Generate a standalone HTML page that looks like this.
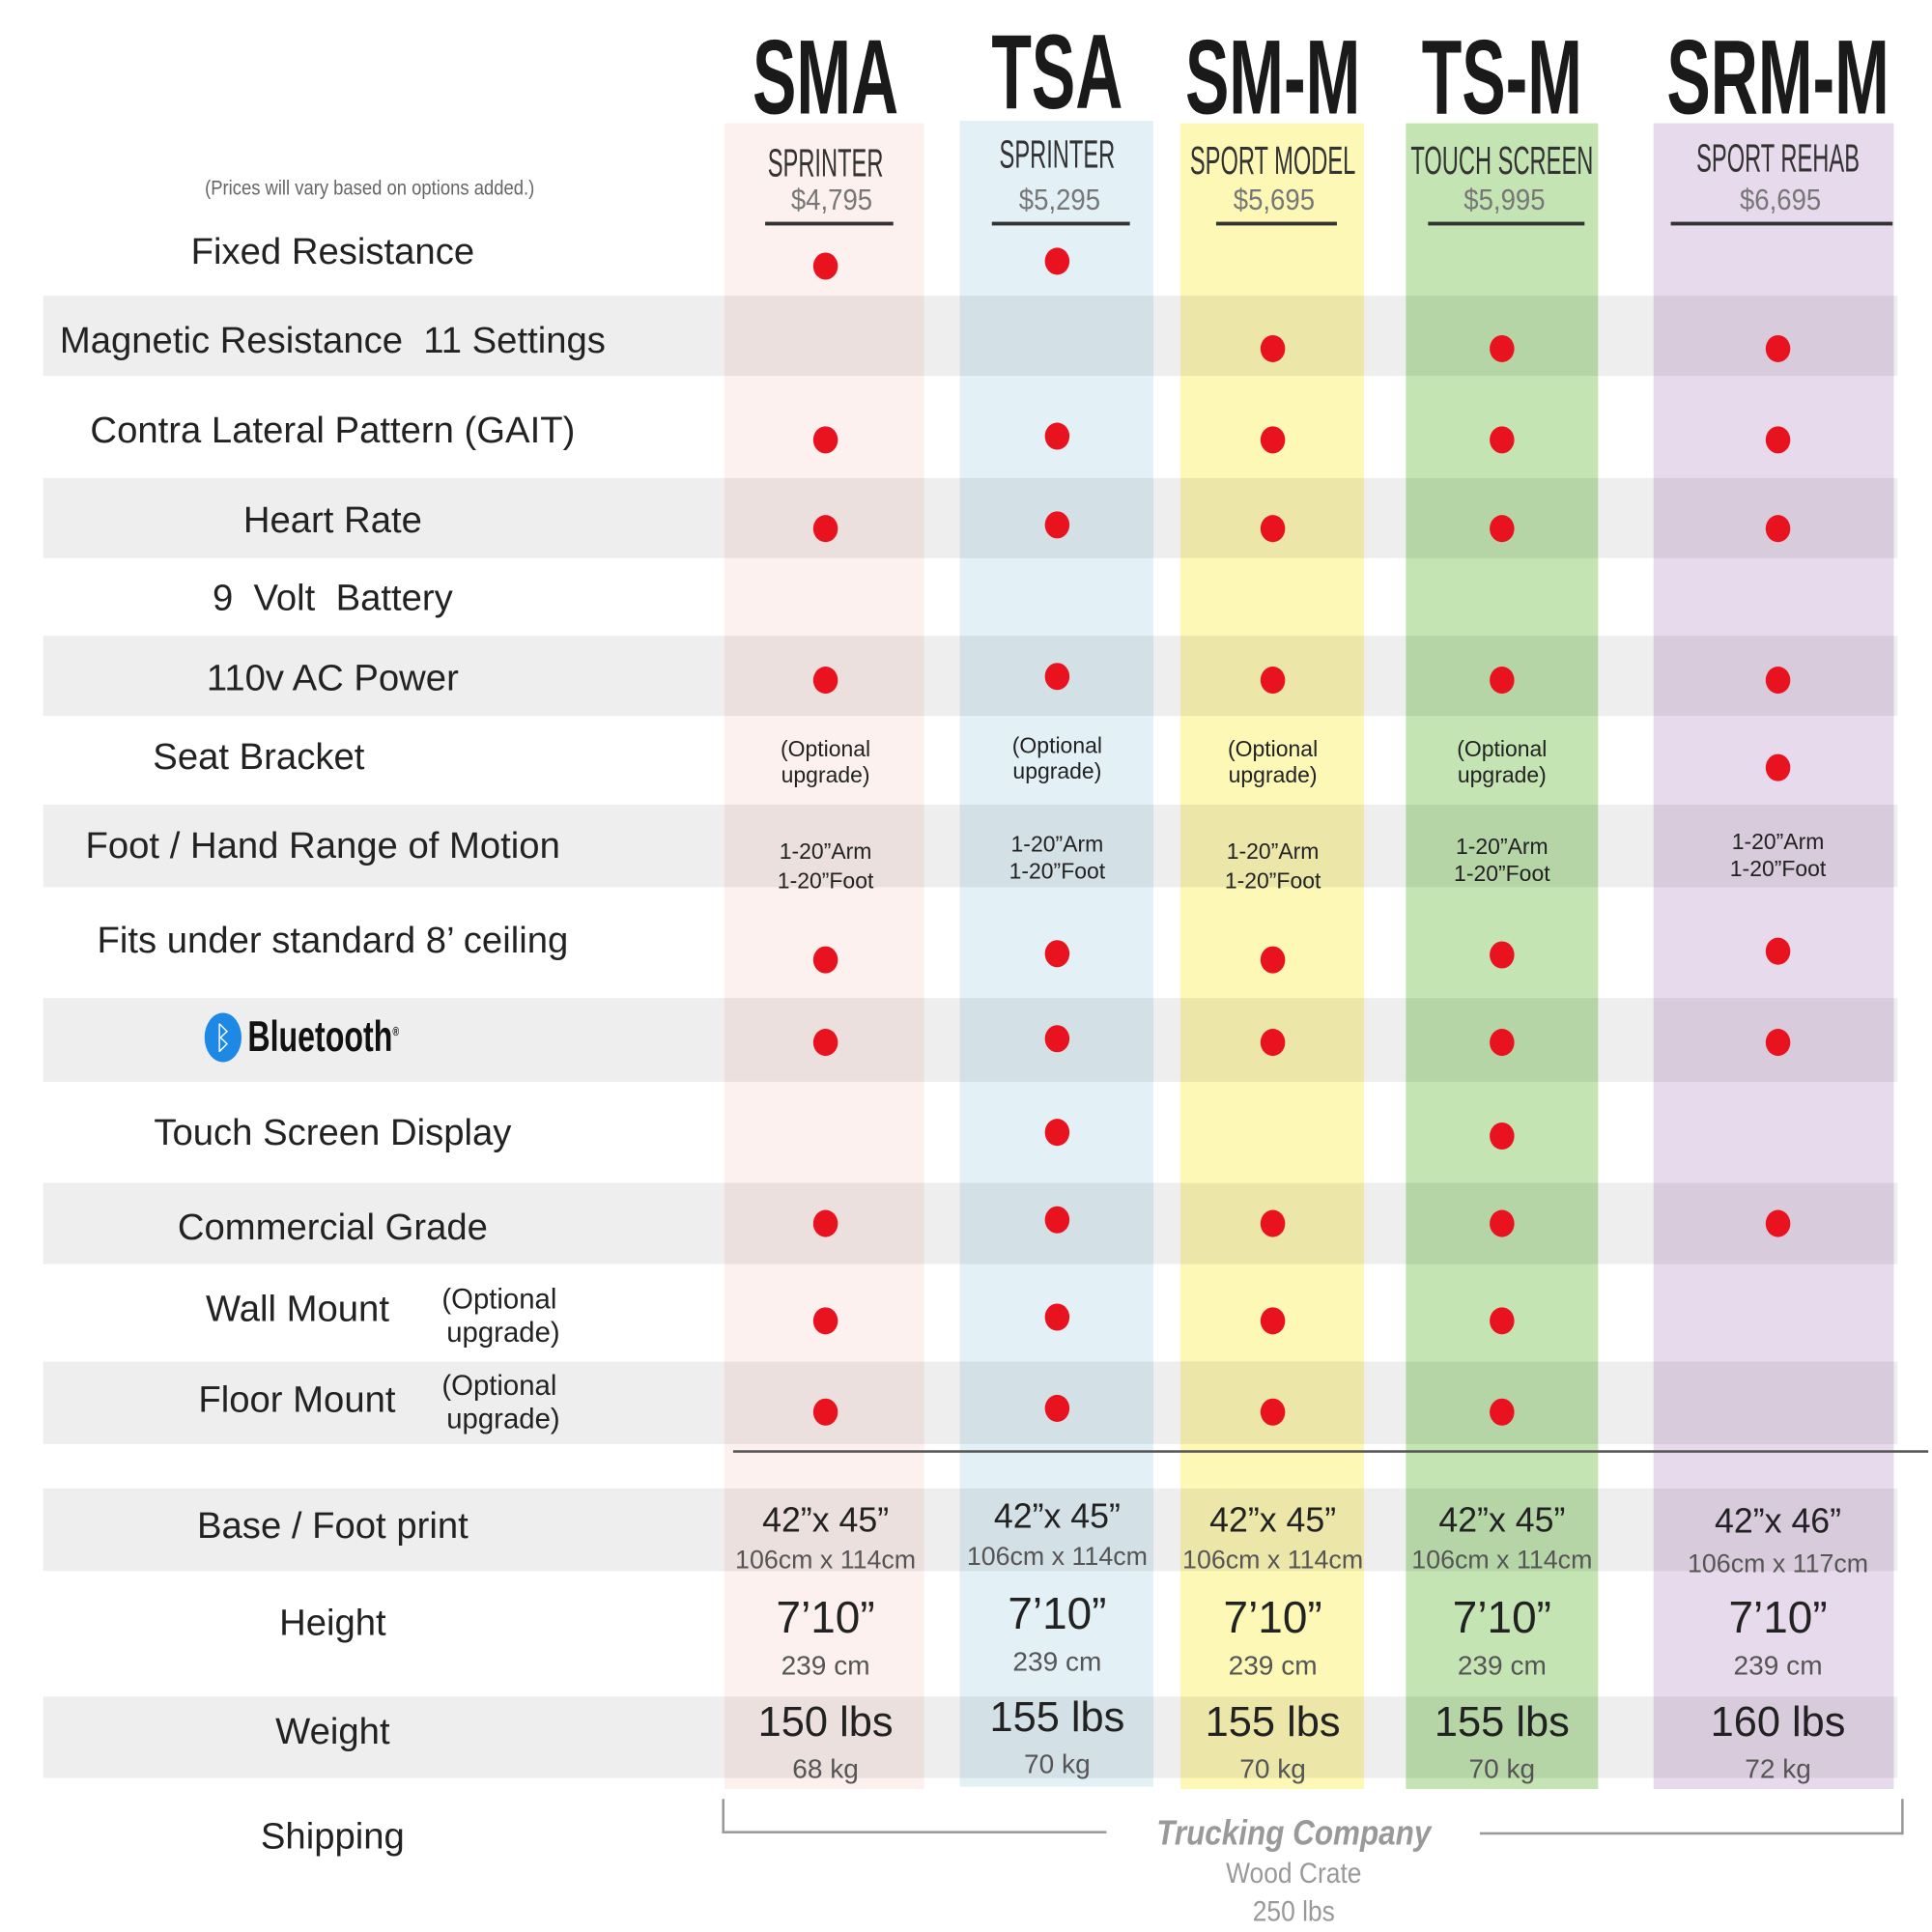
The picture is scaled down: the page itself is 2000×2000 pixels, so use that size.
<!DOCTYPE html>
<html><head><meta charset="utf-8">
<style>
html,body{margin:0;padding:0;background:#fff;}
#wrap{width:2000px;height:2000px;overflow:hidden;position:relative;}
#c{position:absolute;left:0;top:0;width:1568px;height:1568px;transform:scale(1.27551);transform-origin:0 0;font-family:"Liberation Sans",sans-serif;}
.a{position:absolute;white-space:nowrap;}
.col{position:absolute;top:100px;height:1352px;}
.g{position:absolute;left:35px;width:1505px;background:rgba(0,0,0,0.065);}
.lab{position:absolute;left:35px;width:470px;text-align:center;font-size:30px;color:#222;white-space:nowrap;}
.d{position:absolute;width:20px;height:22px;border-radius:50%;background:#e8131f;}
.hd{position:absolute;font-weight:bold;font-size:86px;color:#1a1a1a;transform:scaleX(0.62);transform-origin:center;text-align:center;width:300px;white-space:nowrap;}
.sub{position:absolute;text-align:center;width:260px;white-space:nowrap;transform:scaleX(0.58);transform-origin:center;}
.pr{position:absolute;text-align:center;width:220px;white-space:nowrap;transform:scaleX(0.9);transform-origin:center;}
.t{position:absolute;text-align:center;width:200px;color:#222;white-space:nowrap;}
</style></head><body><div id="wrap"><div id="c">
<div class="col" style="left:588px;width:162px;background:#fcf1ee"></div>
<div class="col" style="left:779px;width:157px;top:98px;height:1352px;background:#e3f0f6"></div>
<div class="col" style="left:958px;width:149px;background:#fdf8b6"></div>
<div class="col" style="left:1141px;width:156px;background:#c4e5b3"></div>
<div class="col" style="left:1342px;width:195px;background:#e7daec"></div>

<div class="g" style="top:240px;height:65px"></div>
<div class="g" style="top:388px;height:65px"></div>
<div class="g" style="top:516px;height:65px"></div>
<div class="g" style="top:653px;height:67px"></div>
<div class="g" style="top:810px;height:68px"></div>
<div class="g" style="top:960px;height:66px"></div>
<div class="g" style="top:1105px;height:67px"></div>
<div class="g" style="top:1208px;height:67px"></div>
<div class="g" style="top:1377px;height:66px"></div>

<div class="a" style="left:595px;top:1177px;width:970px;height:2px;background:#555"></div>

<div class="hd" style="left:520px;top:14px">SMA</div>
<div class="hd" style="left:708px;top:10px">TSA</div>
<div class="hd" style="left:883px;top:14px">SM-M</div>
<div class="hd" style="left:1069px;top:14px">TS-M</div>
<div class="hd" style="left:1293px;top:14px">SRM-M</div>

<div class="a" style="left:100px;top:143px;width:400px;text-align:center;font-size:17px;color:#666;transform:scaleX(0.85)">(Prices will vary based on options added.)</div>

<div class="sub" style="left:540px;top:114px;font-size:32px;color:#333">SPRINTER</div>
<div class="sub" style="left:728px;top:107px;font-size:32px;color:#333">SPRINTER</div>
<div class="sub" style="left:903px;top:112px;font-size:32px;color:#333">SPORT MODEL</div>
<div class="sub" style="left:1089px;top:112px;font-size:32px;color:#333">TOUCH SCREEN</div>
<div class="sub" style="left:1313px;top:110px;font-size:32px;color:#333">SPORT REHAB</div>
<div class="pr" style="left:565px;top:149px;font-size:24px;color:#777">$4,795</div>
<div class="pr" style="left:750px;top:149px;font-size:24px;color:#777">$5,295</div>
<div class="pr" style="left:924px;top:149px;font-size:24px;color:#777">$5,695</div>
<div class="pr" style="left:1111px;top:149px;font-size:24px;color:#777">$5,995</div>
<div class="pr" style="left:1335px;top:149px;font-size:24px;color:#777">$6,695</div>
<div class="a" style="left:621px;top:180px;width:104px;height:3px;background:#333"></div>
<div class="a" style="left:805px;top:180px;width:112px;height:3px;background:#333"></div>
<div class="a" style="left:987px;top:180px;width:98px;height:3px;background:#333"></div>
<div class="a" style="left:1159px;top:180px;width:127px;height:3px;background:#333"></div>
<div class="a" style="left:1356px;top:180px;width:180px;height:3px;background:#333"></div>

<div class="lab" style="top:188px">Fixed Resistance</div>
<div class="lab" style="top:260px">Magnetic Resistance&nbsp; 11 Settings</div>
<div class="lab" style="top:333px">Contra Lateral Pattern (GAIT)</div>
<div class="lab" style="top:406px">Heart Rate</div>
<div class="lab" style="top:469px">9 &nbsp;Volt &nbsp;Battery</div>
<div class="lab" style="top:534px">110v AC Power</div>
<div class="lab" style="top:598px;left:-25px">Seat Bracket</div>
<div class="lab" style="top:670px;left:27px">Foot / Hand Range of Motion</div>
<div class="lab" style="top:747px">Fits under standard 8’ ceiling</div>
<div class="a" style="left:166px;top:822px;width:30px;height:40px;border-radius:50%;background:#1e88e5;color:#fff;font-size:26px;text-align:center;line-height:40px">ᛒ</div>
<div class="a" style="left:201px;top:822px;font-weight:bold;font-size:35px;color:#111;transform:scaleX(0.72);transform-origin:left">Bluetooth<sup style="font-size:10px">®</sup></div>
<div class="lab" style="top:903px">Touch Screen Display</div>
<div class="lab" style="top:980px">Commercial Grade</div>
<div class="a" style="left:167px;top:1046px;font-size:30px;color:#222">Wall Mount</div>
<div class="a" style="left:161px;top:1120px;font-size:30px;color:#222">Floor Mount</div>
<div class="a" style="left:356px;top:1041px;font-size:23px;color:#222;text-align:center;line-height:27px">(Optional<br>&nbsp;upgrade)</div>
<div class="a" style="left:356px;top:1111px;font-size:23px;color:#222;text-align:center;line-height:27px">(Optional<br>&nbsp;upgrade)</div>
<div class="lab" style="top:1222px">Base / Foot print</div>
<div class="lab" style="top:1301px">Height</div>
<div class="lab" style="top:1389px">Weight</div>
<div class="lab" style="top:1474px">Shipping</div>

<!-- dots -->
<div class="d" style="left:660px;top:205px"></div><div class="d" style="left:848px;top:201px"></div>
<div class="d" style="left:1023px;top:272px"></div><div class="d" style="left:1209px;top:272px"></div><div class="d" style="left:1433px;top:272px"></div>
<div class="d" style="left:660px;top:346px"></div><div class="d" style="left:848px;top:343px"></div><div class="d" style="left:1023px;top:346px"></div><div class="d" style="left:1209px;top:346px"></div><div class="d" style="left:1433px;top:346px"></div>
<div class="d" style="left:660px;top:418px"></div><div class="d" style="left:848px;top:415px"></div><div class="d" style="left:1023px;top:418px"></div><div class="d" style="left:1209px;top:418px"></div><div class="d" style="left:1433px;top:418px"></div>
<div class="d" style="left:660px;top:541px"></div><div class="d" style="left:848px;top:538px"></div><div class="d" style="left:1023px;top:541px"></div><div class="d" style="left:1209px;top:541px"></div><div class="d" style="left:1433px;top:541px"></div>
<div class="d" style="left:1433px;top:612px"></div>
<div class="d" style="left:660px;top:768px"></div><div class="d" style="left:848px;top:763px"></div><div class="d" style="left:1023px;top:768px"></div><div class="d" style="left:1209px;top:764px"></div><div class="d" style="left:1433px;top:761px"></div>
<div class="d" style="left:660px;top:835px"></div><div class="d" style="left:848px;top:832px"></div><div class="d" style="left:1023px;top:835px"></div><div class="d" style="left:1209px;top:835px"></div><div class="d" style="left:1433px;top:835px"></div>
<div class="d" style="left:848px;top:908px"></div><div class="d" style="left:1209px;top:911px"></div>
<div class="d" style="left:660px;top:982px"></div><div class="d" style="left:848px;top:979px"></div><div class="d" style="left:1023px;top:982px"></div><div class="d" style="left:1209px;top:982px"></div><div class="d" style="left:1433px;top:982px"></div>
<div class="d" style="left:660px;top:1061px"></div><div class="d" style="left:848px;top:1058px"></div><div class="d" style="left:1023px;top:1061px"></div><div class="d" style="left:1209px;top:1061px"></div>
<div class="d" style="left:660px;top:1135px"></div><div class="d" style="left:848px;top:1132px"></div><div class="d" style="left:1023px;top:1135px"></div><div class="d" style="left:1209px;top:1135px"></div>

<!-- seat bracket / motion -->
<div class="t" style="left:570px;top:598px;font-size:18px;line-height:21px">(Optional<br>upgrade)</div>
<div class="t" style="left:758px;top:595px;font-size:18px;line-height:21px">(Optional<br>upgrade)</div>
<div class="t" style="left:933px;top:598px;font-size:18px;line-height:21px">(Optional<br>upgrade)</div>
<div class="t" style="left:1119px;top:598px;font-size:18px;line-height:21px">(Optional<br>upgrade)</div>
<div class="t" style="left:570px;top:679px;font-size:18px;line-height:24px">1-20”Arm<br>1-20”Foot</div>
<div class="t" style="left:758px;top:674px;font-size:18px;line-height:22px">1-20”Arm<br>1-20”Foot</div>
<div class="t" style="left:933px;top:679px;font-size:18px;line-height:24px">1-20”Arm<br>1-20”Foot</div>
<div class="t" style="left:1119px;top:676px;font-size:18px;line-height:22px">1-20”Arm<br>1-20”Foot</div>
<div class="t" style="left:1343px;top:672px;font-size:18px;line-height:22px">1-20”Arm<br>1-20”Foot</div>

<!-- base -->
<div class="t" style="left:570px;top:1219px;font-size:28px;line-height:30px">42”x 45”<br><span style="font-size:21px;color:#555">106cm x 114cm</span></div>
<div class="t" style="left:758px;top:1216px;font-size:28px;line-height:30px">42”x 45”<br><span style="font-size:21px;color:#555">106cm x 114cm</span></div>
<div class="t" style="left:933px;top:1219px;font-size:28px;line-height:30px">42”x 45”<br><span style="font-size:21px;color:#555">106cm x 114cm</span></div>
<div class="t" style="left:1119px;top:1219px;font-size:28px;line-height:30px">42”x 45”<br><span style="font-size:21px;color:#555">106cm x 114cm</span></div>
<div class="t" style="left:1343px;top:1219px;font-size:28px;line-height:32px">42”x 46”<br><span style="font-size:21px;color:#555">106cm x 117cm</span></div>
<!-- height -->
<div class="t" style="left:570px;top:1296px;font-size:36px;line-height:34px">7’10”<br><span style="font-size:22px;color:#555">239 cm</span></div>
<div class="t" style="left:758px;top:1293px;font-size:36px;line-height:34px">7’10”<br><span style="font-size:22px;color:#555">239 cm</span></div>
<div class="t" style="left:933px;top:1296px;font-size:36px;line-height:34px">7’10”<br><span style="font-size:22px;color:#555">239 cm</span></div>
<div class="t" style="left:1119px;top:1296px;font-size:36px;line-height:34px">7’10”<br><span style="font-size:22px;color:#555">239 cm</span></div>
<div class="t" style="left:1343px;top:1296px;font-size:36px;line-height:34px">7’10”<br><span style="font-size:22px;color:#555">239 cm</span></div>
<!-- weight -->
<div class="t" style="left:570px;top:1381px;font-size:34px;line-height:34px">150 lbs<br><span style="font-size:22px;color:#555">68 kg</span></div>
<div class="t" style="left:758px;top:1377px;font-size:34px;line-height:34px">155 lbs<br><span style="font-size:22px;color:#555">70 kg</span></div>
<div class="t" style="left:933px;top:1381px;font-size:34px;line-height:34px">155 lbs<br><span style="font-size:22px;color:#555">70 kg</span></div>
<div class="t" style="left:1119px;top:1381px;font-size:34px;line-height:34px">155 lbs<br><span style="font-size:22px;color:#555">70 kg</span></div>
<div class="t" style="left:1343px;top:1381px;font-size:34px;line-height:34px">160 lbs<br><span style="font-size:22px;color:#555">72 kg</span></div>

<!-- shipping bracket -->
<div class="a" style="left:586px;top:1460px;width:2px;height:28px;background:#999"></div>
<div class="a" style="left:586px;top:1486px;width:312px;height:2px;background:#999"></div>
<div class="a" style="left:1201px;top:1487px;width:343px;height:2px;background:#999"></div>
<div class="a" style="left:1543px;top:1460px;width:2px;height:29px;background:#999"></div>
<div class="a" style="left:900px;top:1472px;width:300px;text-align:center;font-size:28px;font-weight:bold;font-style:italic;color:#999;transform:scaleX(0.88)">Trucking Company</div>
<div class="a" style="left:900px;top:1507px;width:300px;text-align:center;font-size:23px;color:#999;transform:scaleX(0.9)">Wood Crate</div>
<div class="a" style="left:900px;top:1538px;width:300px;text-align:center;font-size:23px;color:#999;transform:scaleX(0.9)">250 lbs</div>
</div></div></body></html>
